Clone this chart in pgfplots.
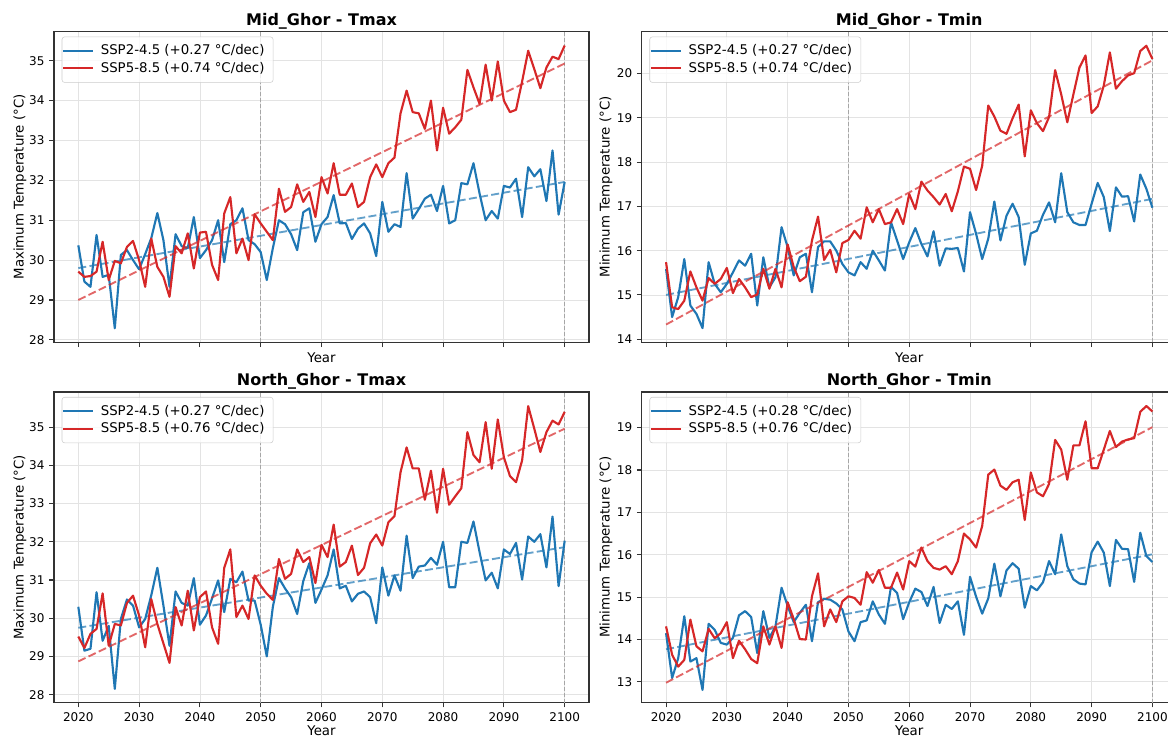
\documentclass[border=0pt]{standalone}
\usepackage{fontspec}
\setmainfont{DejaVu Sans}
\usepackage{pgfplots}
\usepackage{pgfplotstable}
\pgfplotsset{compat=1.18}
\definecolor{cblue}{RGB}{31,119,180}
\definecolor{cred}{RGB}{214,39,40}

\pgfplotstableread{
year b r
2020 30.37 29.71
2021 29.46 29.58
2022 29.33 29.60
2023 30.63 29.71
2024 29.58 30.46
2025 29.63 29.50
2026 28.29 29.98
2027 30.13 29.92
2028 30.25 30.33
2029 30.00 30.48
2030 29.77 30.00
2031 30.15 29.33
2032 30.55 30.54
2033 31.18 29.83
2034 30.50 29.58
2035 29.33 29.08
2036 30.65 30.35
2037 30.35 30.17
2038 30.30 30.67
2039 31.08 29.79
2040 30.05 30.69
2041 30.25 30.71
2042 30.50 29.88
2043 31.00 29.50
2044 29.95 31.17
2045 30.90 31.58
2046 31.00 30.17
2047 31.30 30.54
2048 30.50 30.00
2049 30.40 31.15
2050 30.20 30.92
2051 29.50 30.71
2052 30.30 30.50
2053 31.00 31.79
2054 30.90 31.21
2055 30.65 31.33
2056 30.25 31.90
2057 31.20 31.46
2058 31.30 31.71
2059 30.46 31.08
2060 30.90 32.08
2061 31.08 31.67
2062 31.63 32.43
2063 30.92 31.64
2064 30.93 31.64
2065 30.53 31.92
2066 30.79 31.33
2067 30.92 31.46
2068 30.67 32.08
2069 30.10 32.40
2070 31.46 32.08
2071 30.71 32.43
2072 30.90 32.57
2073 30.83 33.68
2074 32.18 34.25
2075 31.04 33.71
2076 31.28 33.68
2077 31.54 33.29
2078 31.64 34.00
2079 31.23 32.75
2080 31.86 33.82
2081 30.92 33.17
2082 31.00 33.33
2083 31.93 33.52
2084 31.90 34.77
2085 32.43 34.33
2086 31.67 33.92
2087 31.00 34.90
2088 31.23 34.00
2089 31.04 34.98
2090 31.86 34.00
2091 31.82 33.71
2092 32.04 33.77
2093 31.08 34.48
2094 32.33 35.25
2095 32.10 34.79
2096 32.28 34.31
2097 31.48 34.83
2098 32.75 35.10
2099 31.14 35.04
2100 31.96 35.38
}\midTmax

\pgfplotstableread{
year b r
2020 15.59 15.74
2021 14.50 14.72
2022 14.95 14.68
2023 15.81 14.87
2024 14.76 15.53
2025 14.57 15.17
2026 14.25 14.87
2027 15.74 15.38
2028 15.25 15.25
2029 15.06 15.36
2030 15.25 15.61
2031 15.51 15.04
2032 15.78 15.36
2033 15.66 15.17
2034 15.93 14.95
2035 14.76 15.01
2036 15.85 15.59
2037 15.17 15.14
2038 15.40 15.59
2039 16.53 15.17
2040 16.08 16.14
2041 15.44 15.63
2042 15.85 15.31
2043 15.93 15.41
2044 15.06 16.23
2045 16.08 16.77
2046 16.21 15.79
2047 16.21 16.02
2048 16.00 15.51
2049 15.70 16.17
2050 15.51 16.24
2051 15.44 16.45
2052 15.74 16.27
2053 15.59 16.98
2054 16.00 16.64
2055 15.78 16.94
2056 15.55 16.60
2057 16.64 16.64
2058 16.23 16.94
2059 15.81 16.60
2060 16.19 17.28
2061 16.51 16.94
2062 16.15 17.56
2063 15.87 17.36
2064 16.44 17.21
2065 15.66 17.04
2066 16.05 17.28
2067 16.04 16.89
2068 16.06 17.34
2069 15.53 17.90
2070 16.87 17.85
2071 16.38 17.37
2072 15.81 17.92
2073 16.27 19.28
2074 17.11 19.03
2075 16.23 18.71
2076 16.79 18.64
2077 17.06 18.99
2078 16.76 19.30
2079 15.68 18.13
2080 16.39 19.17
2081 16.45 18.88
2082 16.81 18.70
2083 17.09 19.02
2084 16.64 20.08
2085 17.75 19.53
2086 16.87 18.90
2087 16.64 19.53
2088 16.58 20.14
2089 16.58 20.41
2090 17.06 19.11
2091 17.53 19.26
2092 17.21 19.73
2093 16.44 20.48
2094 17.43 19.66
2095 17.22 19.83
2096 17.23 19.96
2097 16.66 20.01
2098 17.72 20.51
2099 17.40 20.63
2100 16.97 20.33
}\midTmin

\pgfplotstableread{
year b r
2020 30.30 29.52
2021 29.15 29.22
2022 29.20 29.59
2023 30.68 29.72
2024 29.41 30.65
2025 29.80 29.28
2026 28.15 29.85
2027 29.98 29.81
2028 30.49 30.40
2029 30.33 30.59
2030 29.76 30.07
2031 29.98 29.24
2032 30.60 30.50
2033 31.32 29.85
2034 30.33 29.34
2035 29.28 28.83
2036 30.70 30.29
2037 30.40 29.81
2038 30.33 30.72
2039 31.05 29.68
2040 29.83 30.55
2041 30.07 30.70
2042 30.52 29.76
2043 30.99 29.33
2044 30.16 31.32
2045 31.03 31.80
2046 30.94 30.03
2047 31.22 30.33
2048 30.46 29.98
2049 30.46 31.12
2050 29.83 30.85
2051 29.00 30.64
2052 30.30 30.48
2053 31.05 31.55
2054 30.78 31.03
2055 30.55 31.16
2056 30.11 31.80
2057 30.97 31.47
2058 31.44 31.60
2059 30.40 30.92
2060 30.75 31.92
2061 31.12 31.60
2062 31.80 32.45
2063 30.78 31.35
2064 30.85 31.47
2065 30.44 31.90
2066 30.64 31.13
2067 30.70 31.32
2068 30.55 31.96
2069 29.87 32.19
2070 31.33 31.90
2071 30.59 32.51
2072 31.12 32.67
2073 30.72 33.82
2074 32.16 34.47
2075 31.05 33.92
2076 31.35 33.92
2077 31.38 33.10
2078 31.58 33.86
2079 31.40 32.76
2080 32.00 33.91
2081 30.81 32.97
2082 30.81 33.19
2083 32.00 33.40
2084 31.97 34.87
2085 32.53 34.27
2086 31.73 34.08
2087 30.99 35.13
2088 31.19 33.91
2089 30.78 35.20
2090 31.80 34.21
2091 31.68 33.72
2092 31.97 33.56
2093 31.01 34.13
2094 32.14 35.55
2095 32.00 34.96
2096 32.20 34.35
2097 31.33 34.87
2098 32.66 35.17
2099 30.84 35.07
2100 32.03 35.40
}\northTmax

\pgfplotstableread{
year b r
2020 14.15 14.31
2021 13.09 13.64
2022 13.56 13.36
2023 14.55 13.52
2024 13.48 14.47
2025 13.56 13.84
2026 12.81 13.72
2027 14.37 14.25
2028 14.23 14.03
2029 13.92 14.15
2030 13.88 14.41
2031 14.04 13.56
2032 14.57 13.97
2033 14.67 13.77
2034 14.53 13.54
2035 13.68 13.44
2036 14.67 14.31
2037 14.04 13.88
2038 14.31 14.31
2039 15.22 13.80
2040 14.79 14.88
2041 14.41 14.48
2042 14.63 14.01
2043 14.82 14.00
2044 13.96 15.02
2045 14.88 15.56
2046 14.96 14.31
2047 14.94 14.71
2048 14.85 14.41
2049 14.71 14.90
2050 14.19 15.02
2051 13.96 14.98
2052 14.41 14.82
2053 14.45 15.59
2054 14.90 15.34
2055 14.59 15.64
2056 14.37 15.22
2057 15.24 15.22
2058 15.10 15.58
2059 14.48 15.18
2060 14.88 15.85
2061 15.20 15.72
2062 15.12 16.17
2063 14.79 15.85
2064 15.24 15.69
2065 14.39 15.65
2066 14.82 15.73
2067 14.72 15.54
2068 14.90 15.85
2069 14.11 16.50
2070 15.48 16.36
2071 15.01 16.17
2072 14.61 16.68
2073 14.97 17.89
2074 15.79 18.01
2075 15.02 17.63
2076 15.63 17.53
2077 15.80 17.71
2078 15.67 17.77
2079 14.75 16.82
2080 15.26 17.94
2081 15.16 17.47
2082 15.35 17.38
2083 15.85 17.67
2084 15.54 18.71
2085 16.48 18.48
2086 15.73 17.77
2087 15.42 18.58
2088 15.32 18.58
2089 15.30 19.15
2090 16.06 18.04
2091 16.31 18.04
2092 16.05 18.48
2093 15.26 18.92
2094 16.35 18.54
2095 16.14 18.67
2096 16.13 18.72
2097 15.36 18.75
2098 16.52 19.37
2099 15.97 19.51
2100 15.83 19.38
}\northTmin

\pgfplotsset{
  panel/.style={
    scale only axis, width=401.25pt, height=233pt,
    xmin=2016, xmax=2104,
    xtick={2020,2030,...,2100},
    grid=major,
    major grid style={line width=0.6pt, draw=gray!22},
    axis line style={line width=0.8pt, draw=black!80},
    tick style={line width=0.8pt, draw=black!80},
    tick align=outside, major tick length=3.6pt,
    xtick pos=bottom, ytick pos=left,
    /pgf/number format/assume math mode=true,
    /pgf/number format/1000 sep={},
    tick label style={font=\fontsize{9}{10}\selectfont},
    label style={font=\fontsize{10}{12}\selectfont},
    title style={font=\bfseries\fontsize{12}{14}\selectfont, at={(0.5,1)}, anchor=base, yshift=-1.5pt},
    xlabel={Year},
    legend cell align=left,
    legend image code/.code={\draw[##1] (0pt,0pt) -- (22.5pt,0pt); \path (25.5pt,0pt);},
    legend style={at={(0,1)}, anchor=north west, xshift=5.8pt, yshift=-3.75pt,
      draw=black!20, rounded corners=2pt, fill=white, fill opacity=0.8, text opacity=1,
      font=\fontsize{10}{12}\selectfont, inner xsep=0pt, inner ysep=4pt,
      row sep=0pt},
  },
  toprow/.style={xticklabels={}, xlabel style={at={(axis description cs:0.5,-0.0483)}, anchor=center}},
  botrow/.style={xlabel style={at={(axis description cs:0.5,-0.091)}, anchor=center}},
  dline/.style={line width=1.6pt, line join=round},
  tline/.style={line width=1.4pt, opacity=0.7, dash pattern=on 6pt off 2.5pt},
  vline/.style={forget plot, draw=gray!70, line width=0.6pt, dash pattern=on 3pt off 1.5pt},
}
\newcommand{\lpad}{\hspace*{4.5pt}}

\begin{document}
\begin{tikzpicture}
\path[use as bounding box] (0,0) rectangle (876pt,553.5pt);

% Top-left
\begin{axis}[panel, toprow, at={(40.5pt,296.8pt)}, anchor=south west,
  ymin=27.94, ymax=35.73, ytick={28,...,35},
  title={Mid\_Ghor - Tmax}, ylabel={Maximum Temperature (°C)},
  ylabel style={at={(axis description cs:-0.0636,0.5)}, anchor=center}]
\addplot[vline] coordinates {(2050,27.94) (2050,35.73)};
\addplot[vline] coordinates {(2100,27.94) (2100,35.73)};
\addplot[dline, cblue] table[x=year,y=b] {\midTmax};
\addlegendentry{SSP2-4.5 (+0.27 °C/dec)\lpad}
\addplot[tline, cblue, forget plot] coordinates {(2020,29.80) (2100,31.96)};
\addplot[dline, cred] table[x=year,y=r] {\midTmax};
\addlegendentry{SSP5-8.5 (+0.74 °C/dec)\lpad}
\addplot[tline, cred, forget plot] coordinates {(2020,29.00) (2100,34.93)};
\end{axis}

% Top-right
\begin{axis}[panel, toprow, at={(481.3pt,296.8pt)}, anchor=south west,
  ymin=13.93, ymax=20.95, ytick={14,...,20},
  title={Mid\_Ghor - Tmin}, ylabel={Minimum Temperature (°C)},
  ylabel style={at={(axis description cs:-0.0667,0.5)}, anchor=center}]
\addplot[vline] coordinates {(2050,13.93) (2050,20.95)};
\addplot[vline] coordinates {(2100,13.93) (2100,20.95)};
\addplot[dline, cblue] table[x=year,y=b] {\midTmin};
\addlegendentry{SSP2-4.5 (+0.27 °C/dec)\lpad}
\addplot[tline, cblue, forget plot] coordinates {(2020,15.00) (2100,17.17)};
\addplot[dline, cred] table[x=year,y=r] {\midTmin};
\addlegendentry{SSP5-8.5 (+0.74 °C/dec)\lpad}
\addplot[tline, cred, forget plot] coordinates {(2020,14.33) (2100,20.30)};
\end{axis}

% Bottom-left
\begin{axis}[panel, botrow, at={(40.5pt,26.5pt)}, anchor=south west,
  ymin=27.79, ymax=35.92, ytick={28,...,35},
  title={North\_Ghor - Tmax}, ylabel={Maximum Temperature (°C)},
  ylabel style={at={(axis description cs:-0.0636,0.5)}, anchor=center}]
\addplot[vline] coordinates {(2050,27.79) (2050,35.92)};
\addplot[vline] coordinates {(2100,27.79) (2100,35.92)};
\addplot[dline, cblue] table[x=year,y=b] {\northTmax};
\addlegendentry{SSP2-4.5 (+0.27 °C/dec)\lpad}
\addplot[tline, cblue, forget plot] coordinates {(2020,29.75) (2100,31.86)};
\addplot[dline, cred] table[x=year,y=r] {\northTmax};
\addlegendentry{SSP5-8.5 (+0.76 °C/dec)\lpad}
\addplot[tline, cred, forget plot] coordinates {(2020,28.87) (2100,34.96)};
\end{axis}

% Bottom-right
\begin{axis}[panel, botrow, at={(481.3pt,26.5pt)}, anchor=south west,
  ymin=12.51, ymax=19.84, ytick={13,...,19},
  title={North\_Ghor - Tmin}, ylabel={Minimum Temperature (°C)},
  ylabel style={at={(axis description cs:-0.0667,0.5)}, anchor=center}]
\addplot[vline] coordinates {(2050,12.51) (2050,19.84)};
\addplot[vline] coordinates {(2100,12.51) (2100,19.84)};
\addplot[dline, cblue] table[x=year,y=b] {\northTmin};
\addlegendentry{SSP2-4.5 (+0.28 °C/dec)\lpad}
\addplot[tline, cblue, forget plot] coordinates {(2020,13.77) (2100,16.01)};
\addplot[dline, cred] table[x=year,y=r] {\northTmin};
\addlegendentry{SSP5-8.5 (+0.76 °C/dec)\lpad}
\addplot[tline, cred, forget plot] coordinates {(2020,12.98) (2100,19.01)};
\end{axis}
\end{tikzpicture}
\end{document}
